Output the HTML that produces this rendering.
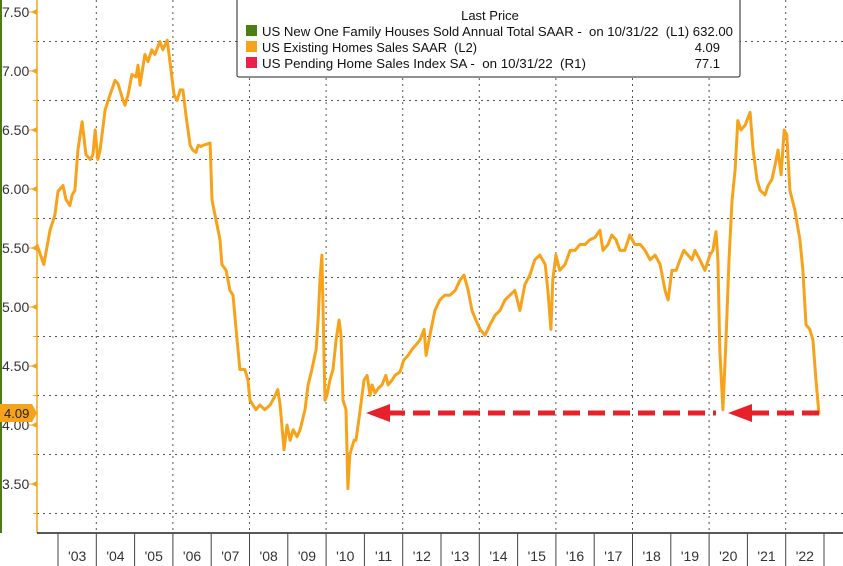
<!DOCTYPE html>
<html><head><meta charset="utf-8">
<style>
body{margin:0;background:#fff;}
svg{display:block;font-family:"Liberation Sans","DejaVu Sans",sans-serif;}
text{white-space:pre;}
</style></head>
<body>
<svg id="chart" width="843" height="566" viewBox="0 0 843 566">
<rect x="0" y="0" width="843" height="566" fill="#fff"/>
<line x1="1" y1="0" x2="1" y2="533" stroke="#4a7a1a" stroke-width="2"/>
<g id="grid"></g>
<g id="yaxis"></g>
<g id="xaxis"></g>
<path id="series" fill="none" stroke="#f7a21b" stroke-width="3" stroke-linejoin="round"/>
<g>
<line x1="388" y1="413" x2="716" y2="413" stroke="#e8202a" stroke-width="5" stroke-dasharray="17,8"/>
<polygon points="366,413 390,404 390,422" fill="#e8202a"/>
<line x1="752" y1="413" x2="820" y2="413" stroke="#e8202a" stroke-width="5" stroke-dasharray="17,8"/>
<polygon points="728,413 752,404 752,422" fill="#e8202a"/>
</g>
<g>
<path d="M0,404 H32 L37,413 L32,422 H0 Z" fill="#f7a21b"/>
<text x="4" y="418" font-size="13" fill="#222">4.09</text>
</g>
<g>
<rect x="237" y="-2" width="503" height="79" rx="2" fill="#fff" stroke="#222" stroke-width="1"/>
<text x="490" y="20" font-size="13" text-anchor="middle" fill="#111">Last Price</text>
<rect x="246" y="25" width="11" height="11" fill="#4b7f12"/>
<text x="262" y="36" font-size="13" fill="#111" textLength="471" lengthAdjust="spacingAndGlyphs">US New One Family Houses Sold Annual Total SAAR -  on 10/31/22  (L1) 632.00</text>
<rect x="246" y="41" width="11" height="11" fill="#f7a21b"/>
<text x="262" y="52" font-size="13" fill="#111" textLength="215" lengthAdjust="spacingAndGlyphs">US Existing Homes Sales SAAR  (L2)</text>
<text x="720" y="52" font-size="13" fill="#111" text-anchor="end">4.09</text>
<rect x="246" y="57" width="11" height="11" fill="#ee1f4a"/>
<text x="262" y="68" font-size="13" fill="#111" textLength="324" lengthAdjust="spacingAndGlyphs">US Pending Home Sales Index SA -  on 10/31/22  (R1)</text>
<text x="720" y="68" font-size="13" fill="#111" text-anchor="end">77.1</text>
</g>
</svg>
<script>
const dates=[2002.45,2002.63,2002.79,2002.92,2003.0,2003.13,2003.21,2003.31,2003.37,2003.44,2003.52,2003.63,2003.73,2003.84,2003.91,2003.97,2004.04,2004.10,2004.23,2004.36,2004.49,2004.57,2004.67,2004.75,2004.83,2004.93,2005.04,2005.09,2005.14,2005.27,2005.35,2005.45,2005.53,2005.66,2005.74,2005.85,2005.95,2006.03,2006.11,2006.19,2006.26,2006.34,2006.45,2006.52,2006.60,2006.66,2006.73,2006.79,2006.97,2007.02,2007.10,2007.23,2007.28,2007.39,2007.49,2007.57,2007.65,2007.75,2007.88,2007.96,2008.01,2008.09,2008.17,2008.27,2008.40,2008.54,2008.67,2008.74,2008.80,2008.90,2008.98,2009.06,2009.14,2009.24,2009.32,2009.45,2009.53,2009.63,2009.74,2009.79,2009.84,2009.89,2009.97,2010.02,2010.10,2010.18,2010.26,2010.34,2010.39,2010.44,2010.52,2010.57,2010.62,2010.73,2010.78,2010.89,2010.99,2011.07,2011.15,2011.20,2011.28,2011.36,2011.46,2011.56,2011.62,2011.72,2011.80,2011.93,2012.03,2012.14,2012.24,2012.35,2012.45,2012.56,2012.61,2012.71,2012.84,2012.97,2013.10,2013.23,2013.37,2013.50,2013.60,2013.71,2013.81,2013.91,2014.02,2014.15,2014.28,2014.41,2014.54,2014.67,2014.80,2014.93,2015.06,2015.19,2015.32,2015.45,2015.58,2015.72,2015.79,2015.87,2015.92,2016.00,2016.10,2016.24,2016.37,2016.50,2016.63,2016.76,2016.89,2017.02,2017.15,2017.23,2017.36,2017.46,2017.57,2017.67,2017.80,2017.93,2018.06,2018.20,2018.33,2018.46,2018.59,2018.72,2018.85,2018.93,2019.03,2019.14,2019.24,2019.34,2019.45,2019.55,2019.63,2019.76,2019.89,2020.02,2020.10,2020.18,2020.23,2020.28,2020.36,2020.44,2020.52,2020.60,2020.68,2020.75,2020.83,2020.94,2021.07,2021.15,2021.25,2021.33,2021.46,2021.54,2021.64,2021.72,2021.80,2021.88,2021.96,2022.03,2022.11,2022.24,2022.37,2022.45,2022.53,2022.63,2022.71,2022.79,2022.87];
const values=[5.53,5.36,5.65,5.78,5.98,6.03,5.91,5.86,5.95,5.99,6.33,6.57,6.29,6.25,6.29,6.50,6.25,6.33,6.67,6.80,6.92,6.89,6.78,6.71,6.80,6.97,6.95,7.05,6.88,7.14,7.08,7.18,7.14,7.25,7.18,7.26,7.01,6.80,6.75,6.84,6.84,6.63,6.37,6.33,6.31,6.37,6.36,6.37,6.39,5.91,5.78,5.57,5.36,5.31,5.14,5.10,4.81,4.47,4.47,4.38,4.21,4.17,4.13,4.17,4.13,4.17,4.25,4.30,4.17,3.79,4.00,3.87,3.96,3.90,3.96,4.13,4.34,4.47,4.64,4.89,5.23,5.44,4.21,4.25,4.38,4.47,4.72,4.89,4.76,4.21,4.13,3.46,3.75,3.87,3.87,4.13,4.38,4.42,4.25,4.34,4.27,4.31,4.34,4.42,4.34,4.38,4.42,4.45,4.55,4.59,4.64,4.68,4.72,4.81,4.59,4.76,4.97,5.06,5.10,5.10,5.14,5.23,5.27,5.14,4.97,4.89,4.81,4.76,4.85,4.93,4.97,5.06,5.10,5.14,4.97,5.19,5.27,5.40,5.44,5.36,5.14,4.81,5.23,5.44,5.31,5.36,5.48,5.48,5.53,5.53,5.57,5.59,5.65,5.48,5.53,5.61,5.57,5.48,5.48,5.61,5.53,5.53,5.48,5.40,5.44,5.36,5.14,5.06,5.31,5.31,5.40,5.48,5.44,5.40,5.48,5.40,5.31,5.44,5.48,5.64,5.40,4.64,4.13,4.72,5.40,5.91,6.16,6.58,6.50,6.54,6.65,6.33,6.08,5.99,5.95,6.03,6.08,6.20,6.33,6.12,6.50,6.46,5.99,5.82,5.57,5.31,4.85,4.81,4.72,4.38,4.09];
const yTicks=[7.5,7.0,6.5,6.0,5.5,5.0,4.5,4.0,3.5];
const yearLabels=["'03","'04","'05","'06","'07","'08","'09","'10","'11","'12","'13","'14","'15","'16","'17","'18","'19","'20","'21","'22"];

const NS="http://www.w3.org/2000/svg";
const X0=58, YW=38.3, Y0=12, PPU=118, PL=37, PB=533, PR=843;
const xs=t=>X0+(t-2003)*YW;
const ys=v=>Y0+(7.5-v)*PPU;
function mk(tag,attrs,parent){const e=document.createElementNS(NS,tag);for(const k in attrs)e.setAttribute(k,attrs[k]);parent.appendChild(e);return e;}
const grid=document.getElementById('grid'),ya=document.getElementById('yaxis'),xa=document.getElementById('xaxis');
for(let v=7.25;v>3.2;v-=0.5){
  const g=mk('line',{x1:PL,x2:PR,y1:ys(v),y2:ys(v),stroke:'#555','stroke-width':1,'stroke-dasharray':'2,4'},grid);
  
  
}
for(let yr=2004;yr<=2022;yr+=2){
  const g=mk('line',{x1:xs(yr),x2:xs(yr),y1:0,y2:PB,stroke:'#555','stroke-width':1,'stroke-dasharray':'2,4'},grid);
  
  
}
mk('line',{x1:PL,x2:PL,y1:0,y2:PB,stroke:'#f7a21b','stroke-width':1.5},ya);
yTicks.forEach(v=>{
  const y=ys(v);
  mk('polygon',{points:`${PL-6},${y} ${PL},${y-3} ${PL},${y+3}`,fill:'#f7a21b'},ya);
  mk('line',{x1:PL-8,x2:PL,y1:y,y2:y,stroke:'#f7a21b','stroke-width':1},ya);
  const t=mk('text',{x:2,y:y+5,'font-size':14,fill:'#333'},ya);
  t.textContent=v.toFixed(2);
  
  
});
for(let v=7.25;v>3.2;v-=0.5){mk('line',{x1:PL-4,x2:PL,y1:ys(v),y2:ys(v),stroke:'#f7a21b'},ya);}
mk('line',{x1:PL,x2:PR,y1:PB,y2:PB,stroke:'#222','stroke-width':1.5},xa);
for(let i=0;i<=yearLabels.length;i++){mk('line',{x1:xs(2003+i),x2:xs(2003+i),y1:PB,y2:566,stroke:'#444','stroke-width':1},xa);}
yearLabels.forEach((l,i)=>{
  const t=mk('text',{x:xs(2003+i+0.5),y:561,'font-size':14,'text-anchor':'middle',fill:'#333'},xa);
  t.textContent=l;
  
  
});
document.getElementById('series').setAttribute('d',dates.map((d,i)=>(i?'L':'M')+xs(d).toFixed(1)+','+ys(values[i]).toFixed(1)).join(' '));
</script>
</body></html>
